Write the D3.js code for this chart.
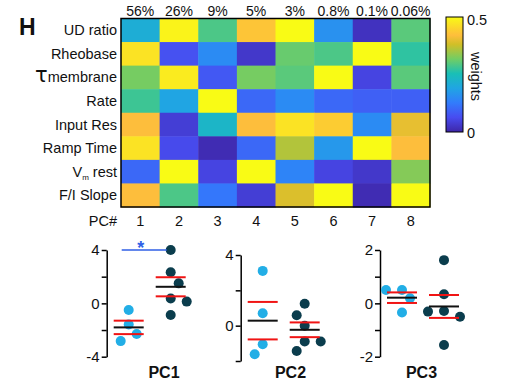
<!DOCTYPE html>
<html>
<head>
<meta charset="utf-8">
<script src="https://cdn.jsdelivr.net/npm/d3@7"></script>
<style>
  body { margin: 0; background: #fff; }
  text { font-family: "Liberation Sans", Arial, sans-serif; fill: #111; }
</style>
</head>
<body>
<svg id="svg"></svg>
<script>
// heatmap data: PCA weights of each property on each PC
const rowLabels = ['UD ratio', 'Rheobase', 'τmembrane', 'Rate', 'Input Res', 'Ramp Time', 'V_m rest', 'F/I Slope']
const pcLabels = ['1', '2', '3', '4', '5', '6', '7', '8']
const varExplained = ['56%', '26%', '9%', '5%', '3%', '0.8%', '0.1%', '0.06%']
const weights = [
  [0.21, 0.49, 0.29, 0.43, 0.50, 0.16, 0.02, 0.30],
  [0.47, 0.07, 0.15, 0.03, 0.31, 0.29, 0.50, 0.27],
  [0.32, 0.48, 0.08, 0.32, 0.30, 0.50, 0.05, 0.30],
  [0.28, 0.19, 0.50, 0.10, 0.15, 0.10, 0.09, 0.09],
  [0.42, 0.04, 0.23, 0.42, 0.47, 0.44, 0.15, 0.40],
  [0.47, 0.06, 0.01, 0.10, 0.36, 0.17, 0.50, 0.42],
  [0.10, 0.50, 0.05, 0.50, 0.14, 0.05, 0.03, 0.33],
  [0.42, 0.29, 0.12, 0.04, 0.39, 0.50, 0.01, 0.50]
]
const weightTicks = [0, 0.5]

// PC scores, two groups
const pcNames = ['PC1', 'PC2', 'PC3']
const groupA = [
  [-0.5, -1.58, -2.3, -2.83],
  [3.1, 0.7, -1.05, -1.62],
  [0.5, 0.5, 0.19, -0.34]
]
const groupB = [
  [4.0, 2.33, 1.5, 0.37, 0.13, -0.88],
  [1.24, 0.59, 0, -0.9, -0.9, -1.43],
  [1.62, 0.34, -0.29, -0.31, -0.5, -1.56]
]
const yDomains = [[-4, 4], [-2, 4], [-2, 2]]
const yTicks = [[-4, -2, 0, 2, 4], [-2, 0, 2, 4], [-2, -1, 0, 1, 2]]
const yTickLabels = [[-4, 0, 4], [0, 4], [-2, 0, 2]]
const sigMarks = ['*', '', '']

// parula (matlab)
const parula = [
  [0, '#3e26a8'], [8 / 63, '#484cf0'], [16 / 63, '#327cfc'], [24 / 63, '#20a5e3'],
  [32 / 63, '#19bfb6'], [40 / 63, '#72cd64'], [48 / 63, '#d1bf27'], [53 / 63, '#febe3c'],
  [56 / 63, '#fccf30'], [1, '#f9fb15']
]

const svg = d3.select('#svg')
  .attr('width', 505)
  .attr('height', 392)
  .style('background-color', '#ffffff')

const hm = { left: 121, right: 430, top: 18.5, bottom: 207 }

const xHm = d3.scaleBand().domain(pcLabels).range([hm.left, hm.right])
const yHm = d3.scaleBand().domain(rowLabels).range([hm.top, hm.bottom])
const color = d3.scaleLinear()
  .domain(parula.map(d => d[0] * 0.5))
  .range(parula.map(d => d[1]))
  .clamp(true)

const cells = []
weights.forEach((row, i) => {
  row.forEach((w, j) => {
    cells.push({ row: rowLabels[i], pc: pcLabels[j], w: w })
  })
})

svg.append('g').selectAll('rect')
  .data(cells)
  .enter()
  .append('rect')
  .attr('x', d => xHm(d.pc))
  .attr('y', d => yHm(d.row))
  .attr('width', xHm.bandwidth() + 0.5)
  .attr('height', yHm.bandwidth() + 0.5)
  .attr('fill', d => color(d.w))

svg.append('rect')
  .attr('x', hm.left).attr('y', hm.top)
  .attr('width', hm.right - hm.left).attr('height', hm.bottom - hm.top)
  .attr('fill', 'none').attr('stroke', '#000').attr('stroke-width', 1.5)

// row labels
svg.append('g').selectAll('text')
  .data(rowLabels)
  .enter()
  .append('text')
  .attr('x', hm.left - 4)
  .attr('y', d => yHm(d) + yHm.bandwidth() / 2 + 5)
  .attr('text-anchor', 'end')
  .style('font-size', '14.5px')
  .each(function (d) {
    const t = d3.select(this)
    if (d[0] === 'τ') {
      t.append('tspan').style('font-size', '21px').style('font-family', 'DejaVu Sans').text('τ')
      t.append('tspan').text(d.slice(1))
    } else if (d.includes('_')) {
      const parts = d.split('_')
      const sub = parts[1].split(' ')[0]
      t.append('tspan').text(parts[0])
      t.append('tspan').style('font-size', '8px').attr('dy', 3).text(sub)
      t.append('tspan').attr('dy', -3).text(parts[1].slice(sub.length))
    } else {
      t.text(d)
    }
  })

// % variance on top
svg.append('g').selectAll('text')
  .data(varExplained)
  .enter()
  .append('text')
  .attr('x', (d, i) => xHm(pcLabels[i]) + xHm.bandwidth() / 2)
  .attr('y', 16)
  .attr('text-anchor', 'middle')
  .style('font-size', '14px')
  .text(d => d)

// PC numbers below
svg.append('g').selectAll('text')
  .data(pcLabels)
  .enter()
  .append('text')
  .attr('x', d => xHm(d) + xHm.bandwidth() / 2)
  .attr('y', 226)
  .attr('text-anchor', 'middle')
  .style('font-size', '14.5px')
  .text(d => d)

svg.append('text')
  .attr('x', hm.left - 4).attr('y', 226)
  .attr('text-anchor', 'end')
  .style('font-size', '14.5px')
  .text('PC#')

svg.append('text')
  .attr('x', 19).attr('y', 35)
  .style('font-size', '23px').style('font-weight', 'bold')
  .text('H')

// colorbar
const cb = { x: 446, w: 17, top: 17, bottom: 132 }
const grad = svg.append('defs').append('linearGradient')
  .attr('id', 'parula')
  .attr('x1', 0).attr('y1', 1).attr('x2', 0).attr('y2', 0)
grad.selectAll('stop')
  .data(parula)
  .enter()
  .append('stop')
  .attr('offset', d => d[0])
  .attr('stop-color', d => d[1])

const cbScale = d3.scaleLinear().domain([0, 0.5]).range([cb.bottom, cb.top])
svg.append('rect')
  .attr('x', cb.x).attr('y', cb.top)
  .attr('width', cb.w).attr('height', cb.bottom - cb.top)
  .attr('fill', 'url(#parula)')
  .attr('stroke', '#000').attr('stroke-width', 1)

svg.append('g').selectAll('text')
  .data(weightTicks)
  .enter()
  .append('text')
  .attr('x', cb.x + cb.w + 4)
  .attr('y', d => cbScale(d) + (d === 0 ? 6 : 8))
  .style('font-size', '14.5px')
  .text(d => d)

svg.append('text')
  .attr('transform', 'translate(471,' + ((cb.top + cb.bottom) / 2 + 2) + ') rotate(90)')
  .attr('text-anchor', 'middle')
  .style('font-size', '14.5px')
  .text('weights')

// ============================ scatter panels
const panelLayout = [
  { axisX: 106.7, top: 250, bottom: 356.7, labelX: 164 },
  { axisX: 240.7, top: 255, bottom: 361, labelX: 290.5 },
  { axisX: 380, top: 250, bottom: 356.7, labelX: 421.5 }
]
const r = 5

// simple beeswarm so close points spread sideways
function dodge (vals, y, cx) {
  const placed = []
  const step = 8
  return vals.map((v, i) => {
    const py = y(v)
    const sign = i % 2 ? -1 : 1
    const offs = [0]
    for (let k = 1; k < 6; k++) offs.push(sign * k * step, -sign * k * step)
    for (const o of offs) {
      if (placed.every(p => Math.hypot(p.x - (cx + o), p.y - py) >= 2 * r + 1.5)) {
        placed.push({ x: cx + o, y: py })
        return { v: v, x: cx + o, y: py }
      }
    }
    placed.push({ x: cx, y: py })
    return { v: v, x: cx, y: py }
  })
}

pcNames.forEach((name, p) => {
  const L = panelLayout[p]
  const y = d3.scaleLinear().domain(yDomains[p]).range([L.bottom, L.top])
  const g = svg.append('g')

  const axis = g.append('g')
    .attr('transform', 'translate(' + L.axisX + ',0)')
    .call(d3.axisLeft(y)
      .tickValues(yTicks[p])
      .tickFormat(d => yTickLabels[p].includes(d) ? String(d) : '')
      .tickSize(5)
      .tickSizeOuter(0))
  axis.select('.domain').attr('stroke-width', 1.5)
  axis.selectAll('.tick line').attr('stroke-width', 1.5)
  axis.selectAll('.tick text')
    .style('font-size', '15px')
    .style('font-family', '"Liberation Sans", Arial, sans-serif')
    .attr('fill', '#111')
    .attr('x', -7)

  const groups = [
    { vals: groupA[p], cx: L.axisX + 22, fill: '#22aee6' },
    { vals: groupB[p], cx: L.axisX + 64, fill: '#0b3d4d' }
  ]

  groups.forEach(gr => {
    const pts = dodge(gr.vals, y, gr.cx)
    g.append('g').selectAll('circle')
      .data(pts)
      .enter()
      .append('circle')
      .attr('cx', d => d.x)
      .attr('cy', d => d.y)
      .attr('r', r)
      .attr('fill', gr.fill)

    const mean = d3.mean(gr.vals)
    const sem = d3.deviation(gr.vals) / Math.sqrt(gr.vals.length)
    const lines = [
      { v: mean, c: '#111' },
      { v: mean + sem, c: '#f01414' },
      { v: mean - sem, c: '#f01414' }
    ]
    g.append('g').selectAll('line')
      .data(lines)
      .enter()
      .append('line')
      .attr('x1', gr.cx - 15)
      .attr('x2', gr.cx + 15)
      .attr('y1', d => y(d.v))
      .attr('y2', d => y(d.v))
      .attr('stroke', d => d.c)
      .attr('stroke-width', 2)
  })

  if (sigMarks[p]) {
    const top = y(yDomains[p][1])
    g.append('line')
      .attr('x1', L.axisX + 15).attr('x2', L.axisX + 60)
      .attr('y1', top).attr('y2', top)
      .attr('stroke', '#2f5fe6').attr('stroke-width', 1.5)
    g.append('text')
      .attr('x', L.axisX + 34).attr('y', top + 4)
      .attr('text-anchor', 'middle')
      .style('font-size', '18px').style('font-weight', 'bold')
      .style('fill', '#2f5fe6')
      .text(sigMarks[p])
  }

  g.append('text')
    .attr('x', L.labelX).attr('y', 378)
    .attr('text-anchor', 'middle')
    .style('font-size', '16px').style('font-weight', 'bold')
    .text(name)
})
</script>
</body>
</html>
